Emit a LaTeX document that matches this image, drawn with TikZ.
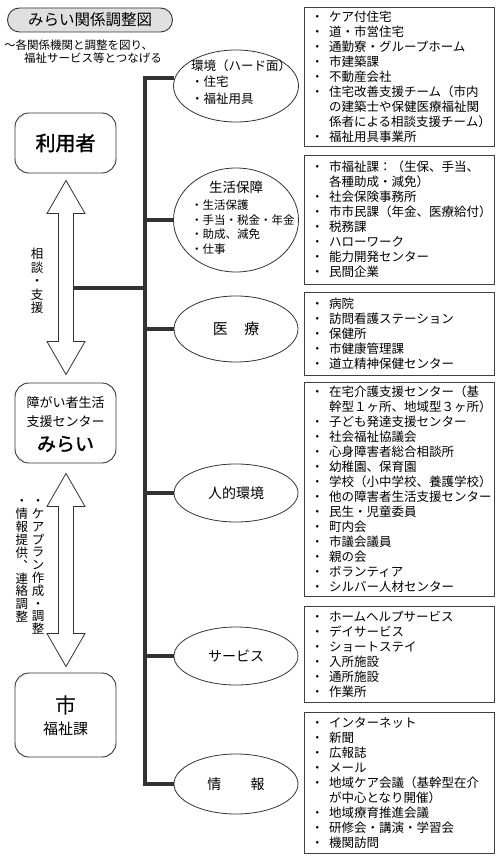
\documentclass[tikz,border=0pt]{standalone}
\usepackage{fontspec}
\setmainfont{Noto Sans CJK JP}[AutoFakeBold=1.5]
\usetikzlibrary{shapes.geometric,calc}
\newcommand\bul{\makebox[18pt][l]{・}}
\newcommand\cnt{\hspace*{18pt}}
\newcommand\fs[2]{\fontsize{#1}{#2}\selectfont}
\begin{document}
\begin{tikzpicture}[x=1pt,y=-1pt,
  lbox/.style={draw=black!80, line width=0.9pt, rounded corners=14pt, minimum width=101pt, inner sep=0pt},
  rbox/.style={draw=black!75, line width=0.8pt, minimum width=190pt, text width=176pt, inner xsep=7pt, inner ysep=0pt, align=left, font=\fs{12.5}{15}},
  ell/.style={draw=black!80, line width=0.8pt, ellipse, minimum width=124pt, inner sep=0pt},
  lbl/.style={inner sep=0pt},
  trunk/.style={line width=4pt, draw=black!80, line join=miter},
  hollow/.style={draw=black!80, line width=0.8pt, fill=white, line join=miter},
  vtext/.style={inner sep=0pt, align=center}
]
\useasboundingbox (0,0) rectangle (500,858);

% title
\node[draw=black!80, line width=0.9pt, fill=black!12, rounded corners=12pt, minimum width=165pt, minimum height=24pt, inner sep=0pt, font=\fs{15.5}{18}] (title) at (90,20) {みらい関係調整図};
\node[anchor=north west, align=left, inner sep=0pt, font=\fs{11.5}{13}] (sub) at (4,40) {～各関係機関と調整を図り、\\\hspace*{20pt}福祉サービス等とつなげる};

% left boxes
\node[lbox, minimum height=60pt] (u) at (65.5,143) {};
\node[lbl, font=\fs{20}{24}\bfseries] (ut) at (u.center) {利用者};
\node[lbox, minimum height=80pt] (m) at (65.5,423) {};
\node[lbl, font=\fs{13}{15}] (m1) at (65.5,403) {障がい者生活};
\node[lbl, font=\fs{13}{15}] (m2) at (65.5,422) {支援センター};
\node[lbl, font=\fs{19}{22}\bfseries] (m3) at (65.5,444) {みらい};
\node[lbox, minimum height=84pt] (c) at (65.5,715) {};
\node[lbl, font=\fs{21}{24}] (c1) at (65.5,705) {市};
\node[lbl, font=\fs{15}{18}] (c2) at (65.5,729) {福祉課};

% double arrows
\newcommand\dblarr[2]{%
  \draw[hollow] (#1) -- ($(#1)+(19,33)$) -- ($(#1)+(7.5,33)$) -- ($(#2)+(7.5,-33)$) -- ($(#2)+(19,-33)$) -- (#2)
    -- ($(#2)+(-19,-33)$) -- ($(#2)+(-7.5,-33)$) -- ($(#1)+(-7.5,33)$) -- ($(#1)+(-19,33)$) -- cycle;}
\coordinate (a1t) at ($(u.south)+(0.5,7)$);
\coordinate (a1b) at ($(m.north)+(0.5,-8)$);
\coordinate (a2t) at ($(m.south)+(0.5,10)$);
\coordinate (a2b) at ($(c.north)+(0.5,-6)$);
\dblarr{a1t}{a1b}
\dblarr{a2t}{a2b}
\coordinate (a1s) at ($(a1t)+(7.5,108)$);

\node[vtext, font=\fs{12.5}{13.4}] (v1) at (37,281) {相\\談\\・\\支\\援};
\node[vtext, font=\fs{12.5}{12.8}] (v2) at (38,567) {・\\ケ\\ア\\プ\\ラ\\ン\\作\\成\\・\\調\\整};
\node[vtext, font=\fs{12.5}{12.9}] (v3) at (22,561) {・\\情\\報\\提\\供\\︑\\連\\絡\\調\\整};

% ellipses
\node[ell, minimum width=125pt, minimum height=72pt] (e1) at (236,86) {};
\node[anchor=west, align=left, inner sep=0pt, font=\fs{12.5}{16.5}] (e1t) at (191,82) {環境（ハード面）\\・住宅\\・福祉用具};
\node[ell, minimum width=125pt, minimum height=104pt] (e2) at (236,220) {};
\node[lbl, font=\fs{13.5}{16}] (e2t) at (236,187) {生活保障};
\node[anchor=west, align=left, inner sep=0pt, font=\fs{11.5}{14.5}] (e2l) at (191,227) {・生活保護\\・手当・税金・年金\\・助成、減免\\・仕事};
\node[ell, minimum height=66pt, font=\fs{15}{18}] (e3) at (236,329) {医\hspace{1.1em}療};
\node[ell, minimum height=58pt, font=\fs{14}{17}] (e4) at (236,493) {人的環境};
\node[ell, minimum height=58pt, font=\fs{14}{17}] (e5) at (236,656) {サービス};
\node[ell, minimum height=60pt, font=\fs{14}{17}] (e6) at (236,784) {情\hspace{2.1em}報};

% trunk and branches
\coordinate (tr) at (145,0);
\draw[trunk] (e1.173) -- (e1.173 -| tr) -- (e6.west -| tr) -- (e6.west);
\draw[trunk] (e2.west -| tr) -- (e2.west);
\draw[trunk] (e3.west -| tr) -- (e3.west);
\draw[trunk] (e4.west -| tr) -- (e4.west);
\draw[trunk] (e5.west -| tr) -- (e5.west);
\draw[trunk] (a1s) -- (a1s -| tr);

% right boxes
\node[rbox, minimum height=139pt] (b1) at (399,76.5) {\bul ケア付住宅\\\bul 道・市営住宅\\\bul 通勤寮・グループホーム\\\bul 市建築課\\\bul 不動産会社\\\bul 住宅改善支援チーム（市内\\\cnt の建築士や保健医療福祉関\\\cnt 係者による相談支援チーム）\\\bul 福祉用具事業所};
\node[rbox, minimum height=129pt] (b2) at (399,219.5) {\bul 市福祉課：（生保、手当、\\\cnt 各種助成・減免）\\\bul 社会保険事務所\\\bul 市市民課（年金、医療給付）\\\bul 税務課\\\bul ハローワーク\\\bul 能力開発センター\\\bul 民間企業};
\node[rbox, minimum height=83pt] (b3) at (399,333.5) {\bul 病院\\\bul 訪問看護ステーション\\\bul 保健所\\\bul 市健康管理課\\\bul 道立精神保健センター};
\node[rbox, minimum height=214pt] (b4) at (399,489) {\bul 在宅介護支援センター（基\\\cnt 幹型１ヶ所、地域型３ヶ所）\\\bul 子ども発達支援センター\\\bul 社会福祉協議会\\\bul 心身障害者総合相談所\\\bul 幼稚園、保育園\\\bul 学校（小中学校、養護学校）\\\bul 他の障害者生活支援センター\\\bul 民生・児童委員\\\bul 町内会\\\bul 市議会議員\\\bul 親の会\\\bul ボランティア\\\bul シルバー人材センター};
\node[rbox, minimum height=96pt] (b5) at (399,654) {\bul ホームヘルプサービス\\\bul デイサービス\\\bul ショートステイ\\\bul 入所施設\\\bul 通所施設\\\bul 作業所};
\node[rbox, minimum height=141pt] (b6) at (399,782.5) {\bul インターネット\\\bul 新聞\\\bul 広報誌\\\bul メール\\\bul 地域ケア会議（基幹型在介\\\cnt が中心となり開催）\\\bul 地域療育推進会議\\\bul 研修会・講演・学習会\\\bul 機関訪問};
\end{tikzpicture}
\end{document}
